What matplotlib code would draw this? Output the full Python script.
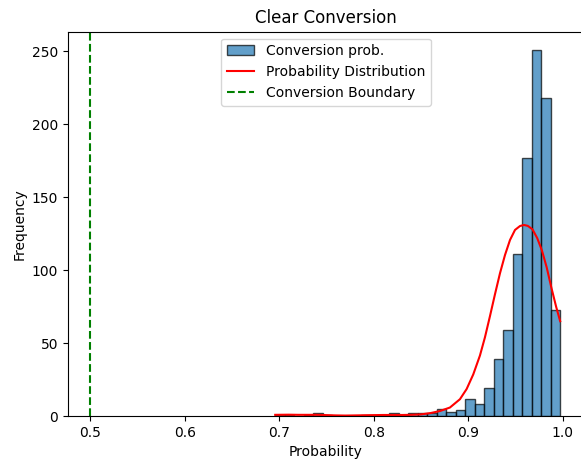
import matplotlib
matplotlib.use("Agg")
import matplotlib.pyplot as plt
import numpy as np

# Histogram: 30 bins between min and max probability
hist_start = 0.6957
hist_end = 0.9973
counts = [1, 1, 0, 1, 2, 1, 0, 0, 0, 1,
          1, 1, 2, 1, 2, 2, 2, 5, 3, 4,
          12, 8, 19, 39, 59, 111, 177, 251, 218, 73]

# Density curve (scaled to frequency)
curve_x = [0.6957, 0.71, 0.72, 0.73, 0.74, 0.75, 0.76, 0.77, 0.78, 0.79,
           0.80, 0.81, 0.82, 0.83, 0.84, 0.850, 0.860, 0.870, 0.8806, 0.8912,
           0.8983, 0.9053, 0.9124, 0.9177, 0.9230, 0.9283, 0.9336, 0.9389,
           0.9442, 0.9495, 0.9548, 0.9590, 0.9630, 0.9680, 0.9730, 0.9780,
           0.9830, 0.9880, 0.9930, 0.9973]
curve_y = [0.8, 0.9, 0.8, 0.8, 0.8, 0.6, 0.4, 0.3, 0.4, 0.5,
           0.6, 0.7, 0.7, 0.7, 0.8, 1.1, 2.0, 3.4, 5.8, 11.5,
           18.5, 28.5, 41.5, 54.0, 68.5, 83.5, 97.9, 110.4,
           120.7, 127.6, 130.3, 131.0, 130.4, 128.0, 122.0, 113.5,
           102.0, 88.0, 75.0, 65.0]

boundary = 0.5

fig = plt.figure(figsize=(5.81, 4.67), dpi=100)
ax = fig.add_axes([68/581, 1 - 416/467, (583.7 - 68)/581, (416 - 31.7)/467])

edges = np.linspace(hist_start, hist_end, len(counts) + 1)
ax.hist(edges[:-1], bins=edges, weights=counts, color="#1f77b4", alpha=0.7,
        edgecolor="black", label="Conversion prob.")
ax.plot(curve_x, curve_y, color="red", label="Probability Distribution")
ax.axvline(boundary, color="green", linestyle="--", label="Conversion Boundary")

ax.set_xlim(0.4764, 1.0222)
ax.set_ylim(0, 263.55)
ax.set_title("Clear Conversion")
ax.set_xlabel("Probability")
ax.set_ylabel("Frequency")
ax.legend(loc="upper center")

fig.savefig("out.png", dpi=100)
